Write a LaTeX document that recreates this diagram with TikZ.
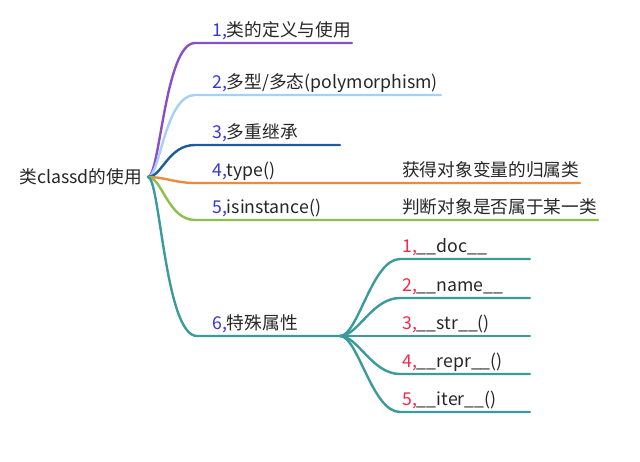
\documentclass[tikz,border=0pt]{standalone}
\usepackage{fontspec}
\setmainfont{Noto Sans CJK SC}
\definecolor{txt}{HTML}{262626}
\definecolor{numb}{HTML}{3A35D8}
\definecolor{numr}{HTML}{EE2A4A}
\definecolor{c1}{HTML}{8A4FC8}
\definecolor{c2}{HTML}{A6D0F5}
\definecolor{c3}{HTML}{1F5C9C}
\definecolor{c4}{HTML}{EE8A3C}
\definecolor{c5}{HTML}{8CC04C}
\definecolor{c6}{HTML}{3A9A9C}
\begin{document}
\begin{tikzpicture}[x=1pt,y=-1pt,line width=2.4pt,line cap=round,
  lbl/.style={anchor=base west,inner sep=0pt,text=txt,font=\fontsize{17.7}{20}\selectfont},
  conn/.style={draw=#1}]
\useasboundingbox (0,0) rectangle (640,461);
\node[lbl,anchor=base east] (root) at (143,183) {类classd的使用};
\coordinate (r) at (148,177);
% branch 1
\coordinate (s1) at (195,43); \coordinate (e1) at (352,43);
\draw[conn=c1] (r) .. controls (160,177) and (165,43) .. (s1) -- (e1);
\node[lbl] (l1) at (211,36) {\textcolor{numb}{1,}类的定义与使用};
% branch 2
\coordinate (s2) at (195,95); \coordinate (e2) at (441,95);
\draw[conn=c2] (r) .. controls (160,177) and (165,95) .. (s2) -- (e2);
\node[lbl] (l2) at (211,88) {\textcolor{numb}{2,}多型/多态(polymorphism)};
% branch 3
\coordinate (s3) at (195,145); \coordinate (e3) at (340,145);
\draw[conn=c3] (r) .. controls (162,177) and (168,145) .. (s3) -- (e3);
\node[lbl] (l3) at (211,138) {\textcolor{numb}{3,}多重继承};
% branch 4
\coordinate (s4) at (195,183); \coordinate (e4) at (580,183);
\draw[conn=c4] (r) .. controls (165,177) and (175,183) .. (s4) -- (e4);
\node[lbl] (l4) at (211,176) {\textcolor{numb}{4,}type()};
\node[lbl] (d4) at (401,176) {获得对象变量的归属类};
% branch 5
\coordinate (s5) at (195,220); \coordinate (e5) at (598,220);
\draw[conn=c5] (r) .. controls (162,177) and (168,220) .. (s5) -- (e5);
\node[lbl] (l5) at (211,213) {\textcolor{numb}{5,}isinstance()};
\node[lbl] (d5) at (401,213) {判断对象是否属于某一类};
% branch 6
\coordinate (s6) at (197,336); \coordinate (sr) at (340,336);
\draw[conn=c6] (r) .. controls (160,177) and (165,336) .. (s6) -- (sr);
\node[lbl] (l6) at (211,329) {\textcolor{numb}{6,}特殊属性};
% sub branches
\foreach \i/\y/\t in {1/259/\_\_doc\_\_, 2/298/\_\_name\_\_, 3/336/\_\_str\_\_(), 4/374/\_\_repr\_\_(), 5/412/\_\_iter\_\_()}{
  \coordinate (ss\i) at (400,\y);
  \coordinate (se\i) at (530,\y);
  \draw[conn=c6] (sr) .. controls (358,336) and (372,\y) .. (ss\i) -- (se\i);
  \node[lbl] (sl\i) at (401,\y-7) {\textcolor{numr}{\i,}\t};
}
\end{tikzpicture}
\end{document}
